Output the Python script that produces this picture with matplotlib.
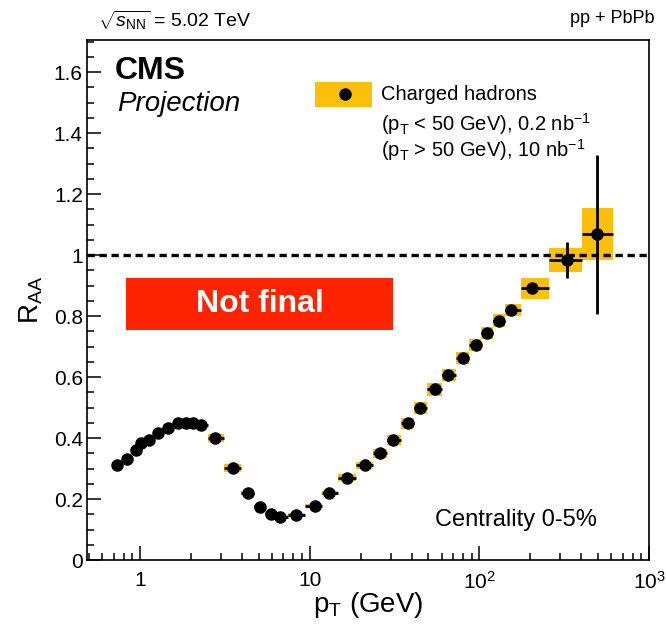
import matplotlib
matplotlib.use("Agg")
import matplotlib.pyplot as plt
import numpy as np
from matplotlib.patches import Rectangle
from matplotlib.ticker import FixedLocator, FuncFormatter, MultipleLocator

plt.rcParams['font.family'] = ['Liberation Sans', 'DejaVu Sans']
plt.rcParams['mathtext.fontset'] = 'custom'
plt.rcParams['mathtext.rm'] = 'Liberation Sans'
plt.rcParams['mathtext.it'] = 'Liberation Sans:italic'

# data
pt = [0.735, 0.842, 0.947, 1.02, 1.135, 1.27, 1.47, 1.67, 1.87, 2.06, 2.28,
      2.77, 3.55, 4.35, 5.09, 5.89, 6.68, 8.30, 10.7, 13.0, 16.6, 21.2,
      26.0, 31.0, 38.0, 44.5, 54.6, 65.6, 80.2, 95.3, 110.5, 131.2, 153.0,
      203.0, 327.0, 496.0]
raa = [0.311, 0.332, 0.361, 0.383, 0.393, 0.417, 0.432, 0.448, 0.448, 0.448, 0.443,
       0.401, 0.303, 0.219, 0.173, 0.150, 0.140, 0.148, 0.177, 0.219, 0.270, 0.311,
       0.350, 0.393, 0.448, 0.499, 0.560, 0.606, 0.663, 0.705, 0.745, 0.785, 0.820,
       0.891, 0.984, 1.068]
stat = [0.002] * 33 + [0.01, 0.06, 0.26]
syst = [0.004] * 11 + [0.013, 0.013] + [0.006] * 7 + [0.012, 0.012, 0.014, 0.016,
        0.018, 0.02, 0.021, 0.02, 0.02, 0.02, 0.02, 0.02, 0.02, 0.035, 0.04, 0.085]

pt = np.array(pt)
raa = np.array(raa)
# bin edges: geometric midpoints between neighbouring points
mid = np.sqrt(pt[:-1] * pt[1:])
edges = np.concatenate([[pt[0] ** 2 / mid[0]], mid, [pt[-1] ** 2 / mid[-1]]])
lo, hi = edges[:-1], edges[1:]

fig = plt.figure(figsize=(6.66, 6.31), dpi=100)
ax = fig.add_axes([0.1306, 0.1125, 0.8439, 0.8241])

yellow = '#FDC00A'
ax.bar(lo, 2 * np.array(syst), width=hi - lo, bottom=raa - np.array(syst),
       align='edge', color=yellow, edgecolor='none', zorder=2)
ax.errorbar(pt, raa, yerr=stat, xerr=[pt - lo, hi - pt], fmt='o', color='black',
            ms=8, elinewidth=2, capsize=0, zorder=4)

ax.axhline(1.0, color='black', lw=2.4, ls=(0, (2.2, 1.4)), zorder=3)

ax.set_xscale('log')
ax.set_xlim(0.487, 1000)
ax.set_ylim(0, 1.705)

ax.yaxis.set_major_locator(MultipleLocator(0.2))
ax.yaxis.set_minor_locator(MultipleLocator(0.05))
ax.yaxis.set_major_formatter(FuncFormatter(lambda v, p: '0' if abs(v) < 1e-9 else ('1' if abs(v - 1) < 1e-9 else f'{v:.1f}')))
ax.xaxis.set_major_locator(FixedLocator([1, 10, 100, 1000]))
ax.xaxis.set_minor_locator(FixedLocator([m * d for d in [0.1, 1, 10, 100] for m in range(2, 10)]))
xlabels = {1: '1', 10: '10', 100: r'$10^{2}$', 1000: r'$10^{3}$'}
ax.xaxis.set_major_formatter(FuncFormatter(lambda v, p: xlabels.get(int(round(v)), '')))

ax.tick_params(which='both', direction='in', top=False, right=False, labelsize=15, width=1.1)
ax.tick_params(axis='y', which='major', length=10, pad=3)
ax.tick_params(axis='y', which='minor', length=5)
ax.tick_params(axis='x', which='major', length=10, pad=8)
ax.tick_params(axis='x', which='minor', length=5)
ax.xaxis.set_minor_formatter(FuncFormatter(lambda v, p: ''))
for s in ax.spines.values():
    s.set_linewidth(1.2)

ax.set_xlabel(r'p$_{\mathrm{T}}$ (GeV)', fontsize=20)
ax.xaxis.set_label_coords(0.5, -0.058)
ax.set_ylabel(r'R$_{\mathrm{AA}}$', fontsize=20)
ax.yaxis.set_label_coords(-0.075, 0.5)

# CMS labels
ax.text(0.05, 0.94, 'CMS', transform=ax.transAxes, fontsize=23, fontweight='bold',
        va='center', ha='left')
ax.text(0.053, 0.877, 'Projection', transform=ax.transAxes, fontsize=20, style='italic',
        va='center', ha='left')

# legend drawn by hand
ax.add_patch(Rectangle((0.4057, 0.872), 0.101, 0.048, transform=ax.transAxes,
                       facecolor=yellow, edgecolor='none', zorder=5))
ax.plot([0.459], [0.896], 'o', color='black', ms=8, transform=ax.transAxes, zorder=6)
ax.text(0.524, 0.896, 'Charged hadrons', transform=ax.transAxes, fontsize=14.5, va='center')
ax.text(0.524, 0.838, r'(p$_{\mathrm{T}}$ < 50 GeV), 0.2 nb$^{-1}$', transform=ax.transAxes,
        fontsize=14.5, va='center')
ax.text(0.524, 0.788, r'(p$_{\mathrm{T}}$ > 50 GeV), 10 nb$^{-1}$', transform=ax.transAxes,
        fontsize=14.5, va='center')

# "Not final" banner
ax.add_patch(Rectangle((0.0694, 0.4423), 0.4751, 0.1, transform=ax.transAxes,
                       facecolor='#FF2400', edgecolor='none', zorder=5))
ax.text(0.307, 0.492, 'Not final', transform=ax.transAxes, fontsize=23, fontweight='bold',
        color='white', ha='center', va='center', zorder=6)

ax.text(0.907, 0.077, 'Centrality 0-5%', transform=ax.transAxes, fontsize=17,
        ha='right', va='center')

fig.text(0.147, 0.968, r'$\sqrt{s_{\mathrm{NN}}}$ = 5.02 TeV', fontsize=14, va='center', ha='left')
fig.text(0.983, 0.971, 'pp + PbPb', fontsize=13, va='center', ha='right')

fig.savefig('out.png', dpi=100)
